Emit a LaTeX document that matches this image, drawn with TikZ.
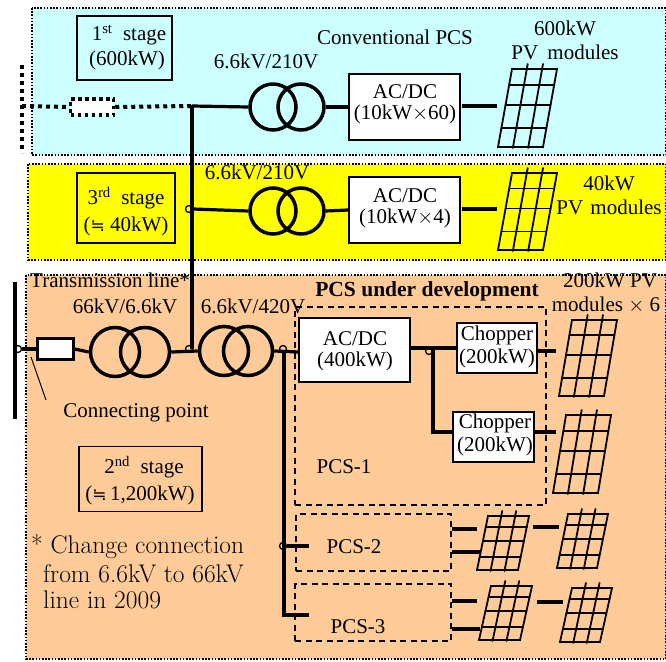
\documentclass[tikz,border=0pt]{standalone}
\usepackage{fontspec}
\setmainfont{Liberation Serif}
\newfontfamily\symfont{DejaVu Sans}
\newcommand{\approxsym}{{\symfont\fontsize{17}{17}\selectfont ≒}}
\newcommand{\lmtext}{\usefont{TU}{lmr}{m}{n}}
\definecolor{cyanbg}{RGB}{204,255,255}
\definecolor{yellowbg}{RGB}{255,255,0}
\definecolor{orangebg}{RGB}{255,204,153}
\newcommand{\pvpanel}[5]{%
  \begin{scope}[shift={(#1,#2)},line width=1.8pt,line cap=round]
    \draw (#4,0) -- (#4+#3,0) -- (#3,#5) -- (0,#5) -- cycle;
    \foreach \t in {0.2,0.46,0.76}
      \draw ({#4*(1-\t)},{\t*#5}) -- ({#4*(1-\t)+#3},{\t*#5});
    \foreach \f in {0.33,0.67}
      \draw ({#4*1.06+\f*#3},-5) -- ({\f*#3},#5+1);
  \end{scope}}
\begin{document}
\begin{tikzpicture}[x=1pt,y=-1pt,
  every node/.style={font=\fontsize{21}{24}\selectfont,inner sep=0pt,text=black},
  stagebox/.style={draw=black,line width=1.5pt,inner sep=0pt},
  whitebox/.style={draw=black,line width=1.8pt,fill=white},
  xfmr/.style={circle,draw=black,line width=3.5pt,minimum size=#1},
  junction/.style={circle,draw=black,line width=1.3pt,minimum size=7pt},
  bgborder/.style={draw=black,line width=1.6pt,dash pattern=on 1.6pt off 1.6pt},
  pcsborder/.style={draw=black,line width=1.5pt,dash pattern=on 6pt off 4.5pt},
  wire/.style={line width=3.2pt},
  heavy/.style={line width=4pt},
  dotwire/.style={line width=4pt,dash pattern=on 4pt off 4pt}]
\useasboundingbox (0,0) rectangle (666,661);
% backgrounds
\path[bgborder,fill=cyanbg] (32,8) rectangle (666,155);
\path[bgborder,fill=yellowbg] (28,164) rectangle (666,260);
\path[bgborder,fill=orangebg] (26,275) rectangle (666,659);
% stage boxes
\node[stagebox,minimum width=95pt,minimum height=64pt] (s1) at (124.5,48) {};
\node[stagebox,minimum width=98pt,minimum height=70pt] (s3) at (126,208) {};
\node[stagebox,minimum width=123pt,minimum height=65pt] (s2) at (140.5,479) {};
\node (s1a) at (129,35) {1\textsuperscript{st}\ \ stage};
\node (s1b) at (127,60) {(600kW)};
\node (s3a) at (126,198) {3\textsuperscript{rd}\ \ stage};
\node (s3b) at (126,226) {(\approxsym\ 40kW)};
\node (s2a) at (144,467) {2\textsuperscript{nd}\ \ stage};
\node (s2b) at (140,495) {(\approxsym\,1,200kW)};
% first stage row
\coordinate (busTopA) at (22,65);
\coordinate (busTopB) at (22,153);
\coordinate (busTopJ) at (22,106);
\coordinate (trunkTop) at (192,106);
\draw[dotwire] (busTopA) -- (busTopB);
\node[draw=black,line width=3.5pt,dash pattern=on 3.5pt off 3.5pt,fill=white,minimum width=43pt,minimum height=16pt] (fuseTop) at (92,107) {};
\draw[dotwire] (busTopJ) -- (fuseTop.west);
\draw[dotwire] (fuseTop.east) -- (trunkTop);
\node[xfmr=46pt] (t1a) at (273,107) {};
\node[xfmr=46pt] (t1b) at (301,107) {};
\node[whitebox,minimum width=111pt,minimum height=66pt] (ac1) at (404.5,107) {};
\coordinate (w1a) at (462,106);
\coordinate (w1b) at (497,106);
\draw[wire] (trunkTop) -- (t1a.west);
\draw[wire] (t1b.east) -- (ac1.west);
\draw[heavy] (w1a) -- (w1b);
\pvpanel{498}{69}{45}{14}{78}
\node (t1) at (266,61) {6.6kV/210V};
\node (t2) at (395,37) {Conventional PCS};
\node (ac1a) at (405,92) {AC/DC};
\node (ac1b) at (405,114) {(10kW$\times$60)};
\node (t3) at (565,28) {600kW};
\node (t4) at (565,52) {PV\hspace{4pt} modules};
% third stage row
\node[xfmr=46pt] (t3a) at (273,211) {};
\node[xfmr=46pt] (t3b) at (301,211) {};
\node[whitebox,minimum width=111pt,minimum height=66pt] (ac3) at (404.5,210) {};
\node[junction] (j3) at (189,209) {};
\coordinate (w3a) at (462,209);
\coordinate (w3b) at (497,209);
\draw[wire] (j3.east) -- (t3a.west);
\draw[wire] (t3b.east) -- (ac3.west);
\draw[heavy] (w3a) -- (w3b);
\pvpanel{498}{173}{45}{14}{77}
\node (t5) at (257,172) {6.6kV/210V};
\node (ac3a) at (405,196) {AC/DC};
\node (ac3b) at (405,218) {(10kW$\times$4)};
\node (t6) at (609,183) {40kW};
\node (t7) at (609,207) {PV\hspace{2pt} modules};
% second stage: main line
\coordinate (bus1) at (15,282);
\coordinate (bus2) at (15,419);
\draw[heavy] (bus1) -- (bus2);
\node[junction] (j0) at (18,349) {};
\node[draw=black,line width=3pt,fill=white,minimum width=36pt,minimum height=21pt] (fuse) at (55,349) {};
\node[xfmr=49pt] (t8a) at (115,352) {};
\node[xfmr=49pt] (t8b) at (145,352) {};
\node[xfmr=49pt] (t9a) at (224,351) {};
\node[xfmr=49pt] (t9b) at (248,351) {};
\node[junction] (j1) at (189,349) {};
\node[junction] (j2) at (283,349) {};
\coordinate (trunkEnd) at (192,349);
\draw[line width=3.5pt] (192,104.5) -- (trunkEnd);
\draw[wire] (j0.east) -- (fuse.west);
\draw[wire] (fuse.east) -- (t8a.west);
\draw[wire] (t8b.east) -- (t9a.west);
\draw[wire] (t9b.east) -- (299,352);
\coordinate (cpA) at (31,357);
\coordinate (cpB) at (46,400);
\draw[line width=1pt] (cpA) -- (cpB);
% PCS boxes
\node[pcsborder,draw,minimum width=251pt,minimum height=198pt] (pcs1) at (420.5,406) {};
\node[pcsborder,draw,minimum width=155pt,minimum height=57pt] (pcs2) at (373.5,542.5) {};
\node[pcsborder,draw,minimum width=156pt,minimum height=57pt] (pcs3) at (373,612.5) {};
% PCS feeders
\coordinate (fTop) at (284,350);
\coordinate (fBot) at (284,615);
\coordinate (f3) at (309,615);
\coordinate (f2) at (309,546);
\node[junction] (j4) at (283,546) {};
\draw[line width=3.5pt] (fTop) -- (fBot) -- (f3);
\draw[wire] (j4.east) -- (f2);
% PCS-1 contents
\node[whitebox,minimum width=111pt,minimum height=64pt] (ac2) at (354.5,350) {};
\node[whitebox,minimum width=80pt,minimum height=50pt] (ch1) at (497,348) {};
\node[whitebox,minimum width=81pt,minimum height=50pt] (ch2) at (493.5,437) {};
\node[junction] (j5) at (429,351) {};
\coordinate (bend) at (433,432);
\coordinate (split) at (433,348);
\draw[wire] (ac2.east |- split) -- (ch1.west |- split);
\draw[line width=3.5pt] (split) -- (bend) -- (ch2.west |- bend);
\coordinate (o1) at (556,351);
\coordinate (o2) at (556,432);
\draw[heavy] (ch1.east |- o1) -- (o1);
\draw[wire] (ch2.east |- o2) -- (o2);
\pvpanel{559}{320}{45}{13}{76}
\pvpanel{553}{415}{45}{13}{78}
% PCS-2 and PCS-3 outputs
\pvpanel{477}{516}{41}{11}{54}
\pvpanel{557}{514}{40}{11}{54}
\pvpanel{479}{586}{41}{12}{54}
\pvpanel{560}{588}{40}{12}{54}
\coordinate (p2a) at (477,529);
\coordinate (p2b) at (480,552);
\coordinate (p3a) at (477,601);
\coordinate (p3b) at (480,629);
\coordinate (l1a) at (533,527);
\coordinate (l1b) at (559,527);
\coordinate (l2a) at (537,602);
\coordinate (l2b) at (563,602);
\draw[heavy] (pcs2.east |- p2a) -- (p2a);
\draw[heavy] (pcs2.east |- p2b) -- (p2b);
\draw[heavy] (pcs3.east |- p3a) -- (p3a);
\draw[heavy] (pcs3.east |- p3b) -- (p3b);
\draw[heavy] (l1a) -- (l1b);
\draw[heavy] (l2a) -- (l2b);
% labels
\node (l1) at (110,280) {Transmission line*};
\node (l2) at (125,306) {66kV/6.6kV};
\node (l3) at (253,306) {6.6kV/420V};
\node[font=\fontsize{21.5}{24}\selectfont\bfseries] (l4) at (427,291) {PCS under development};
\node (l5) at (610,280) {200kW PV};
\node (l6) at (606,305) {modules\ $\times$\ 6};
\node (l7) at (136,413) {Connecting point};
\node (ac2a) at (355,339) {AC/DC};
\node (ac2b) at (355,361) {(400kW)};
\node (ch1a) at (497,335) {Chopper};
\node (ch1b) at (497,358) {(200kW)};
\node (ch2a) at (495,423) {Chopper};
\node (ch2b) at (495,446) {(200kW)};
\node (p1) at (344,467) {PCS-1};
\node (p2) at (354,547) {PCS-2};
\node (p3) at (358,627) {PCS-3};
\node[anchor=west,font=\fontsize{25.5}{28}\lmtext] (n1) at (31,547) {* Change connection};
\node[anchor=west,font=\fontsize{25.5}{28}\lmtext] (n2) at (43,574) {from 6.6kV to 66kV};
\node[anchor=west,font=\fontsize{25.5}{28}\lmtext] (n3) at (43,600) {line in 2009};
\end{tikzpicture}
\end{document}
